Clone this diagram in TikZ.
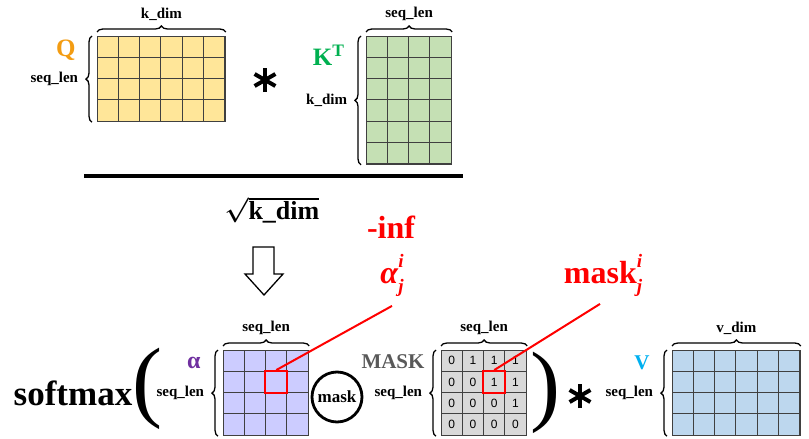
\documentclass[tikz,border=0pt]{standalone}
\usepackage{fontspec}
\setmainfont{Liberation Serif}
\setsansfont{Liberation Sans}
\usepackage{amsmath}
\definecolor{QFill}{HTML}{FFE699}
\definecolor{KFill}{HTML}{C5E0B4}
\definecolor{AFill}{HTML}{CCCCFF}
\definecolor{MFill}{HTML}{D9D9D9}
\definecolor{VFill}{HTML}{BDD7EE}
\definecolor{QText}{HTML}{F39C12}
\definecolor{KText}{HTML}{00B050}
\definecolor{AText}{HTML}{7030A0}
\definecolor{MText}{HTML}{595959}
\definecolor{VText}{HTML}{00B0F0}
\definecolor{Sel}{HTML}{FF0000}
\usetikzlibrary{positioning,calc,decorations.pathreplacing}
\newcommand{\ijindex}{\makebox[0pt][l]{\raisebox{0.5em}{\fontsize{19}{19}\selectfont\itshape i}}%
    \raisebox{-0.28em}{\fontsize{19}{19}\selectfont\itshape j}}

\begin{document}
\begin{tikzpicture}[x=1pt, y=-1pt, line width=1pt,
    mat/.style={draw=black!75, rectangle, inner sep=0pt, anchor=north west},
    cellline/.style={draw=black!75, line width=0.9pt},
    brace/.style={decorate, decoration={brace, amplitude=6pt}, line width=1.3pt},
    dimlbl/.style={font=\fontsize{15}{18}\selectfont\bfseries},
    namelbl/.style={inner sep=0pt, anchor=east, font=\fontsize{25}{28}\selectfont\bfseries},
    redlbl/.style={text=Sel, font=\fontsize{32}{36}\selectfont\bfseries},
    selbox/.style={draw=Sel, line width=1.8pt, minimum size=22pt, inner sep=0pt},
    redline/.style={draw=Sel, line width=2pt},
    spoke/.style={line width=4pt},
    paren/.style={font=\fontsize{90}{90}\selectfont, inner sep=0pt}]
    \useasboundingbox (0,0) rectangle (809,439);

    % matrices
    \node [mat, fill=QFill, minimum width=127.8pt, minimum height=85.2pt] (Q) at (97,36) {};
    \node [mat, fill=KFill, minimum width=85.2pt, minimum height=127.8pt] (K) at (366,36) {};
    \node [mat, fill=AFill, minimum width=85.2pt, minimum height=85.2pt] (A) at (223,350) {};
    \node [mat, fill=MFill, minimum width=85.2pt, minimum height=85.2pt] (M) at (441,350) {};
    \node [mat, fill=VFill, minimum width=127.8pt, minimum height=85.2pt] (V) at (672,350) {};

    \foreach \m/\c/\r in {Q/6/4, K/4/6, A/4/4, M/4/4, V/6/4} {
        \foreach \i in {1,...,\c}
            \draw[cellline] ($(\m.north west)+(\i*21.3,0)$) -- ($(\m.south west)+(\i*21.3,0)$);
        \foreach \j in {1,...,\r}
            \draw[cellline] ($(\m.north west)+(0,\j*21.3)$) -- ($(\m.north east)+(0,\j*21.3)$);
    }

    % mask values
    \foreach \v [count=\k from 0] in {0,1,1,1, 0,0,1,1, 0,0,0,1, 0,0,0,0} {
        \pgfmathtruncatemacro{\col}{mod(\k,4)}
        \pgfmathtruncatemacro{\row}{int(\k/4)}
        \node [font=\sffamily\fontsize{12}{14}\selectfont, inner sep=0pt] (m\k)
              at ($(M.north west)+({(\col+0.5)*21.3},{(\row+0.5)*21.3})$) {\v};
    }

    % braces and dimensions
    \draw[brace] ([yshift=4pt]Q.north west) -- ([yshift=4pt]Q.north east)
        node[dimlbl, midway, above=7pt] (Qtop) {k\_dim};
    \draw[brace] ([xshift=-5pt]Q.south west) -- ([xshift=-5pt]Q.north west)
        node[dimlbl, midway, left=10pt] (Qside) {seq\_len};
    \draw[brace] ([yshift=4pt]K.north west) -- ([yshift=4pt]K.north east)
        node[dimlbl, midway, above=7pt] (Ktop) {seq\_len};
    \draw[brace] ([xshift=-5pt]K.south west) -- ([xshift=-5pt]K.north west)
        node[dimlbl, midway, left=10pt] (Kside) {k\_dim};
    \draw[brace] ([yshift=4pt]A.north west) -- ([yshift=4pt]A.north east)
        node[dimlbl, midway, above=7pt] (Atop) {seq\_len};
    \draw[brace] ([xshift=-5pt]A.south west) -- ([xshift=-5pt]A.north west)
        node[dimlbl, midway, left=10pt] (Aside) {seq\_len};
    \draw[brace] ([yshift=4pt]M.north west) -- ([yshift=4pt]M.north east)
        node[dimlbl, midway, above=7pt] (Mtop) {seq\_len};
    \draw[brace] ([xshift=-5pt]M.south west) -- ([xshift=-5pt]M.north west)
        node[dimlbl, midway, left=10pt] (Mside) {seq\_len};
    \draw[brace] ([yshift=4pt]V.north west) -- ([yshift=4pt]V.north east)
        node[dimlbl, midway, above=7pt] (Vtop) {v\_dim};
    \draw[brace] ([xshift=-5pt]V.south west) -- ([xshift=-5pt]V.north west)
        node[dimlbl, midway, left=10pt] (Vside) {seq\_len};

    % matrix names
    \node [namelbl, text=QText] (Qname) at ([xshift=-21pt, yshift=-14pt]Q.north west) {Q};
    \node [namelbl, text=KText] (Kname) at ([xshift=-21pt, yshift=-19pt]K.north west) {K\textsuperscript{T}};
    \node [namelbl, text=AText, font=\fontsize{24}{26}\selectfont\bfseries] (Aname) at ([xshift=-22pt, yshift=-13pt]A.north west) {α};
    \node [namelbl, text=MText, font=\fontsize{21}{24}\selectfont\bfseries] (Mname) at ([xshift=-16pt, yshift=-12pt]M.north west) {MASK};
    \node [namelbl, text=VText, font=\fontsize{21}{24}\selectfont\bfseries] (Vname) at ([xshift=-22pt, yshift=-13pt]V.north west) {V};

    % fraction
    \draw[line width=3.5pt] (84,176) -- (463,176);
    \node [font=\fontsize{26}{30}\selectfont\bfseries\boldmath] (root) at (272,210) {$\sqrt{\text{\bfseries k\_dim}}$};
    \draw[line width=1.3pt] (253,247) -- (274,247) -- (274,274) -- (283,274) -- (264,295)
        -- (245,274) -- (253,274) -- cycle;

    % softmax expression
    \node [font=\fontsize{35}{40}\selectfont\bfseries] (softmax) at (73,393) {softmax};
    \node [paren] (lparen) at (147,389) {\makebox[0pt]{(}};
    \node [paren] (rparen) at (545,393) {\makebox[0pt]{)}};
    \coordinate (times1) at (265,80);
    \coordinate (times2) at (580,396);
    \foreach \t in {times1, times2}
        \foreach \a in {90, 30, -30}
            \draw[spoke] ($(\t)+(\a:12)$) -- ($(\t)+(\a+180:12)$);
    \node [draw, circle, line width=2.8pt, minimum size=50pt, inner sep=0pt,
           font=\fontsize{17}{20}\selectfont\bfseries] (maskop) at (337,397) {mask};

    % selected entries
    \node [selbox] (Asel) at ($(A.north west)+(53.25,31.95)$) {};
    \node [selbox] (Msel) at ($(M.north west)+(53.25,31.95)$) {};
    \node [redlbl] (aij) at (392,275) {\textit{α}\ijindex};
    \node [redlbl] (ninf) at (391,227) {-inf};
    \node [redlbl] (mij) at (603,275) {mask\ijindex};
    \draw[redline] (Asel.north) -- ([shift={(0,-6pt)}]aij.south);
    \draw[redline] (Msel.north) -- ([shift={(-3pt,-4pt)}]mij.south);
\end{tikzpicture}
\end{document}
